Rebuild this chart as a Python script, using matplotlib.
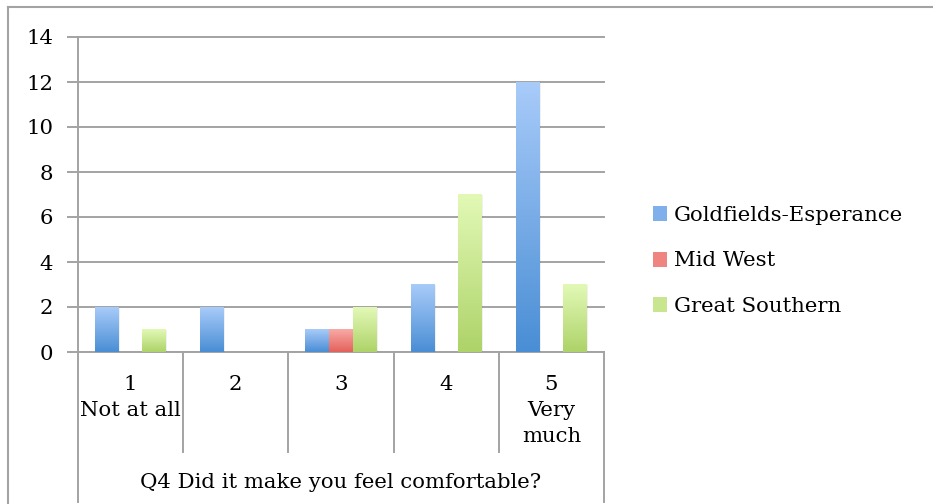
import numpy as np
import matplotlib.pyplot as plt
from matplotlib.colors import LinearSegmentedColormap
from matplotlib.lines import Line2D
from matplotlib.patches import Patch

categories = ["1\nNot at all", "2", "3", "4", "5\nVery\nmuch"]
series_names = ["Goldfields-Esperance", "Mid West", "Great Southern"]
goldfields = [2, 2, 1, 3, 12]
mid_west = [0, 0, 1, 0, 0]
great_southern = [1, 0, 2, 7, 3]
axis_title = "Q4 Did it make you feel comfortable?"

# top colour, bottom colour for each series
grads = [("#a8cbf9", "#4a8ed5"), ("#f9aaa6", "#e3615b"), ("#e2f9b6", "#aed369")]
legend_cols = ["#7fb0ec", "#ef8580", "#c8e690"]
grid_col = "#a3a3a3"
fs = 15.3

plt.rcParams["font.family"] = "DejaVu Serif"
fig = plt.figure(figsize=(9.33, 5.04), dpi=100)
W, H = 933, 504
ax = fig.add_axes([78 / W, (H - 352) / H, 526 / W, 315 / H])

x = np.arange(len(categories))
bw = 0.225
values = [goldfields, mid_west, great_southern]
for i, vals in enumerate(values):
    cmap = LinearSegmentedColormap.from_list("g%d" % i, [grads[i][1], grads[i][0]])
    offs = (i - 1) * bw
    bars = ax.bar(x + offs, vals, bw, color="none", linewidth=0)
    for b, v in zip(bars, vals):
        if v <= 0:
            continue
        x0 = b.get_x()
        # soft shadow on the right side
        ax.bar(x0 + bw / 2 + 0.012, v, bw, bottom=0, color="#000000", alpha=0.06,
               linewidth=0, zorder=1.5)
        ax.imshow(np.linspace(0, 1, 100).reshape(-1, 1), cmap=cmap, origin="lower",
                  extent=(x0, x0 + bw, 0, v), aspect="auto", zorder=2)

ax.set_xlim(-0.5, len(categories) - 0.5)
ax.set_ylim(0, 14)
ax.set_yticks(range(0, 15, 2))
ax.yaxis.grid(True, color=grid_col, linewidth=1.4)
for gl in ax.get_ygridlines():
    gl.set_clip_on(False)
ax.set_axisbelow(True)
for s in ["top", "right", "bottom"]:
    ax.spines[s].set_visible(False)
ax.spines["left"].set_color(grid_col)
ax.spines["left"].set_linewidth(1.4)
ax.tick_params(axis="y", length=8, width=1.4, color=grid_col, pad=10, labelsize=fs)

ax.set_xticks(x)
ax.set_xticklabels(categories, fontsize=fs, linespacing=1.46)
ax.tick_params(axis="x", length=0, pad=16.5)

# category separators below the plot
tr = ax.get_xaxis_transform()
ax.axhline(0, color=grid_col, linewidth=1.4, zorder=1)
for b in np.arange(0.5, len(categories) - 1, 1):
    ax.plot([b, b], [0, -100 / 315], color=grid_col, lw=1.4, transform=tr, clip_on=False)
for b in [-0.5, len(categories) - 0.5]:
    ax.plot([b, b], [0, -150 / 315], color=grid_col, lw=1.4, transform=tr, clip_on=False)
ax.text(0.5, -130 / 315, axis_title, transform=ax.transAxes, ha="center", va="center",
        fontsize=fs)

handles = [Patch(facecolor=c, edgecolor="none") for c in legend_cols]
fig.legend(handles, series_names, loc="center left", bbox_to_anchor=(644 / W, 1 - 261 / H),
           frameon=False, fontsize=fs, handlelength=0.7, handleheight=0.7,
           handletextpad=0.3, labelspacing=1.25, borderaxespad=0)

# outer chart frame
fig.add_artist(Line2D([8 / W, 1], [1 - 7 / H, 1 - 7 / H], color=grid_col, lw=1.5))
fig.add_artist(Line2D([8 / W, 8 / W], [0, 1 - 7 / H], color=grid_col, lw=1.5))

fig.savefig("out.png", dpi=100)
